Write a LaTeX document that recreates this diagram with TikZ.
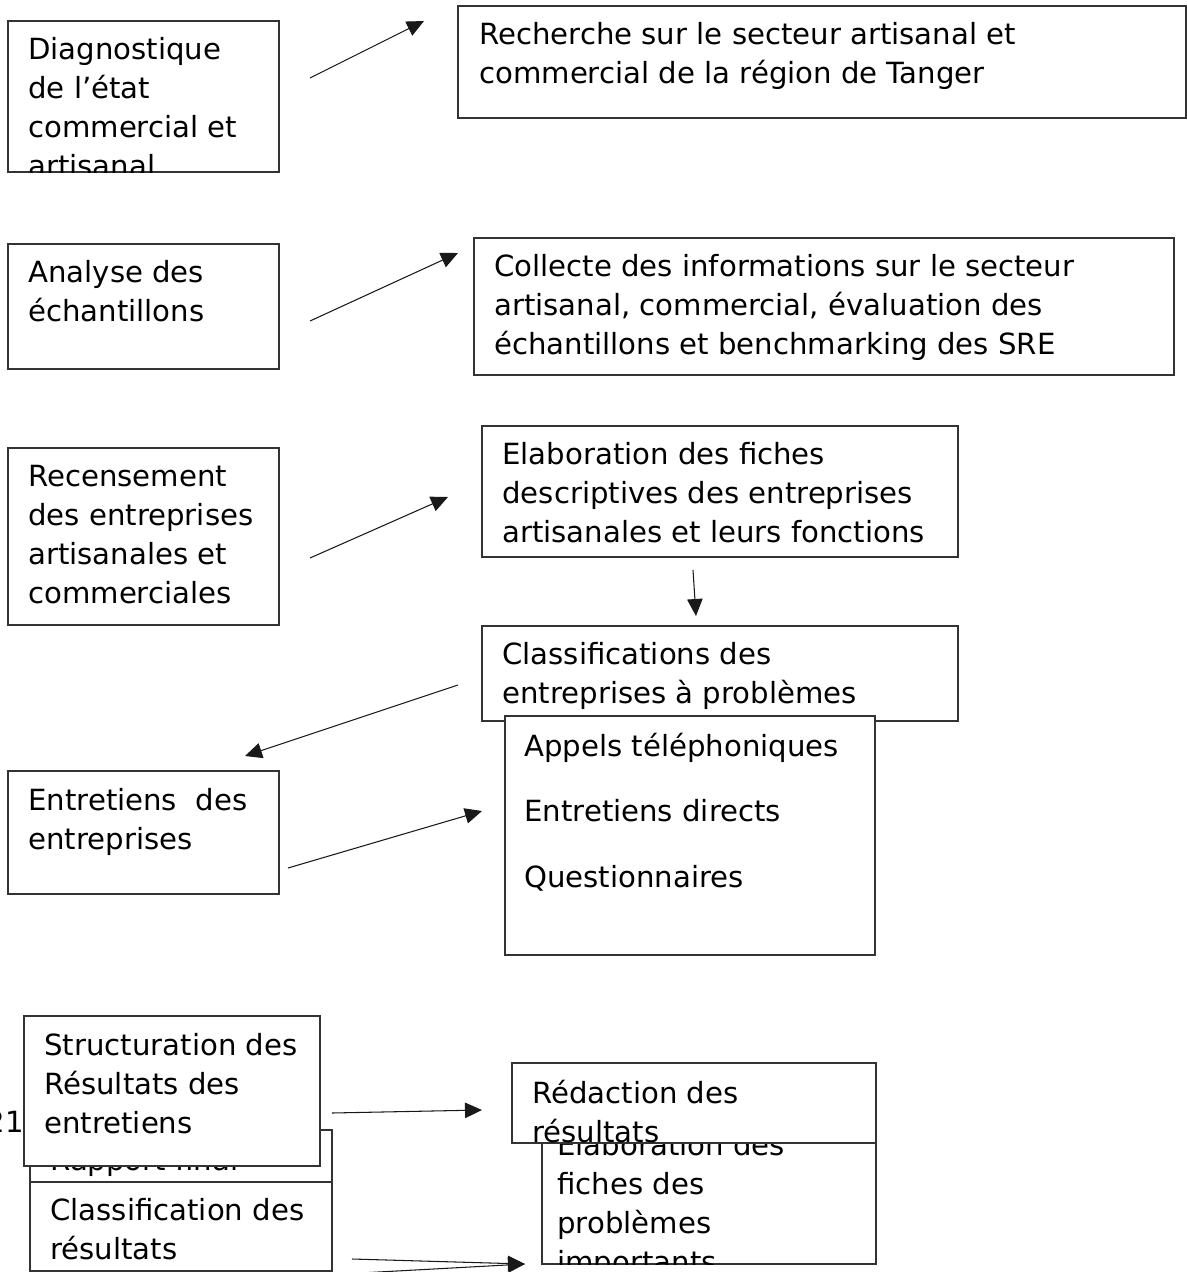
\documentclass[tikz,border=0pt]{standalone}
\usepackage{fontspec}
\setmainfont{DejaVu Sans}
\usetikzlibrary{fit,arrows.meta}
\tikzset{box/.style={draw=black!80, fill=white, line width=0.6pt, inner sep=0pt, fit={#1}},
txt/.style={anchor=north west, inner sep=0pt, align=left, font=\fontsize{16.6pt}{22.2pt}\selectfont},
arr/.style={-{Triangle[length=3.4mm,width=3.1mm]}, line width=0.6pt, black!90}}
% text of a box, clipped to the box
\newcommand{\boxtext}[4]{%
  \begin{scope}
    \clip (#1.south west) rectangle (#1.north east);
    \node[txt] (#1-txt) at (#2,#3) {\strut #4};
  \end{scope}}

\begin{document}
\begin{tikzpicture}[x=0.02cm, y=-0.02cm]
        \useasboundingbox (0,0) rectangle (1187,1272);
        \node[box={(8,21) (279,172)}] (diag) {};
        \boxtext{diag}{28}{31.5}{Diagnostique\\de l’état\\commercial et\\artisanal}
        \node[box={(458,6) (1186,118)}] (rech) {};
        \boxtext{rech}{479}{16.5}{Recherche sur le secteur artisanal et\\commercial de la région de Tanger}
        \node[box={(8,244) (279,369)}] (anal) {};
        \boxtext{anal}{28}{254.5}{Analyse des\\échantillons}
        \node[box={(474,238) (1174,375)}] (coll) {};
        \boxtext{coll}{494}{248.5}{Collecte des informations sur le secteur\\artisanal, commercial, évaluation des\\échantillons et benchmarking des SRE}
        \node[box={(8,448) (279,625)}] (recens) {};
        \boxtext{recens}{28}{458.5}{Recensement\\des entreprises\\artisanales et\\commerciales}
        \node[box={(482,426) (958,557)}] (fdesc) {};
        \boxtext{fdesc}{502}{436.5}{Elaboration des fiches\\descriptives des entreprises\\artisanales et leurs fonctions}
        \node[box={(482,626) (958,721)}] (classif) {};
        \boxtext{classif}{502}{636.5}{Classifications des\\entreprises à problèmes}
        \node[box={(505,716) (875,955)}] (appels) {};
        \boxtext{appels}{524}{728.5}{Appels téléphoniques\\[15.1pt]Entretiens directs\\[15.1pt]Questionnaires}
        \node[box={(8,771) (279,894)}] (entret) {};
        \boxtext{entret}{28}{782.5}{Entretiens\ \ des\\entreprises}
        % bas de page
        \node[anchor=base east, inner sep=0pt, font=\fontsize{16.6pt}{22.2pt}\selectfont] (num) at (24,1132) {21};
        \node[box={(30,1130) (332,1200)}] (rapport) {};
        \boxtext{rapport}{50}{1142.5}{Rapport final}
        \node[box={(24,1016) (320,1166)}] (struct) {};
        \boxtext{struct}{44}{1027.5}{Structuration des\\Résultats des\\entretiens}
        \node[box={(30,1182) (332,1271)}] (classres) {};
        \boxtext{classres}{50}{1192.5}{Classification des\\résultats}
        \node[box={(542,1115) (876,1264)}] (elabo) {};
        \boxtext{elabo}{557}{1127.5}{Elaboration des\\fiches des\\problèmes\\importants}
        \node[box={(512,1063) (876,1143)}] (redac) {};
        \boxtext{redac}{532}{1075.5}{Rédaction des\\résultats}
        % free ends of the arrows
        \coordinate (diag-out) at (310,78);
        \coordinate (rech-in) at (424,21);
        \coordinate (anal-out) at (310,321);
        \coordinate (coll-in) at (458,253);
        \coordinate (recens-out) at (310,558);
        \coordinate (fdesc-in) at (448,497);
        \coordinate (fdesc-out) at (693,570);
        \coordinate (classif-in) at (696,616);
        \coordinate (classif-out) at (458,685);
        \coordinate (entret-in) at (245,756);
        \coordinate (entret-out) at (288,868);
        \coordinate (appels-in) at (482,811);
        \coordinate (struct-out) at (332,1113);
        \coordinate (redac-in) at (482,1110);
        \coordinate (classres-out) at (352,1259);
        \coordinate (classres-out2) at (360,1273);
        \coordinate (elabo-in) at (525,1264);
        \draw[arr] (diag-out) -- (rech-in);
        \draw[arr] (anal-out) -- (coll-in);
        \draw[arr] (recens-out) -- (fdesc-in);
        \draw[arr] (fdesc-out) -- (classif-in);
        \draw[arr] (classif-out) -- (entret-in);
        \draw[arr] (entret-out) -- (appels-in);
        \draw[arr] (struct-out) -- (redac-in);
        \draw[arr] (classres-out) -- (elabo-in);
        \draw[arr] (classres-out2) -- (elabo-in);
\end{tikzpicture}
\end{document}
